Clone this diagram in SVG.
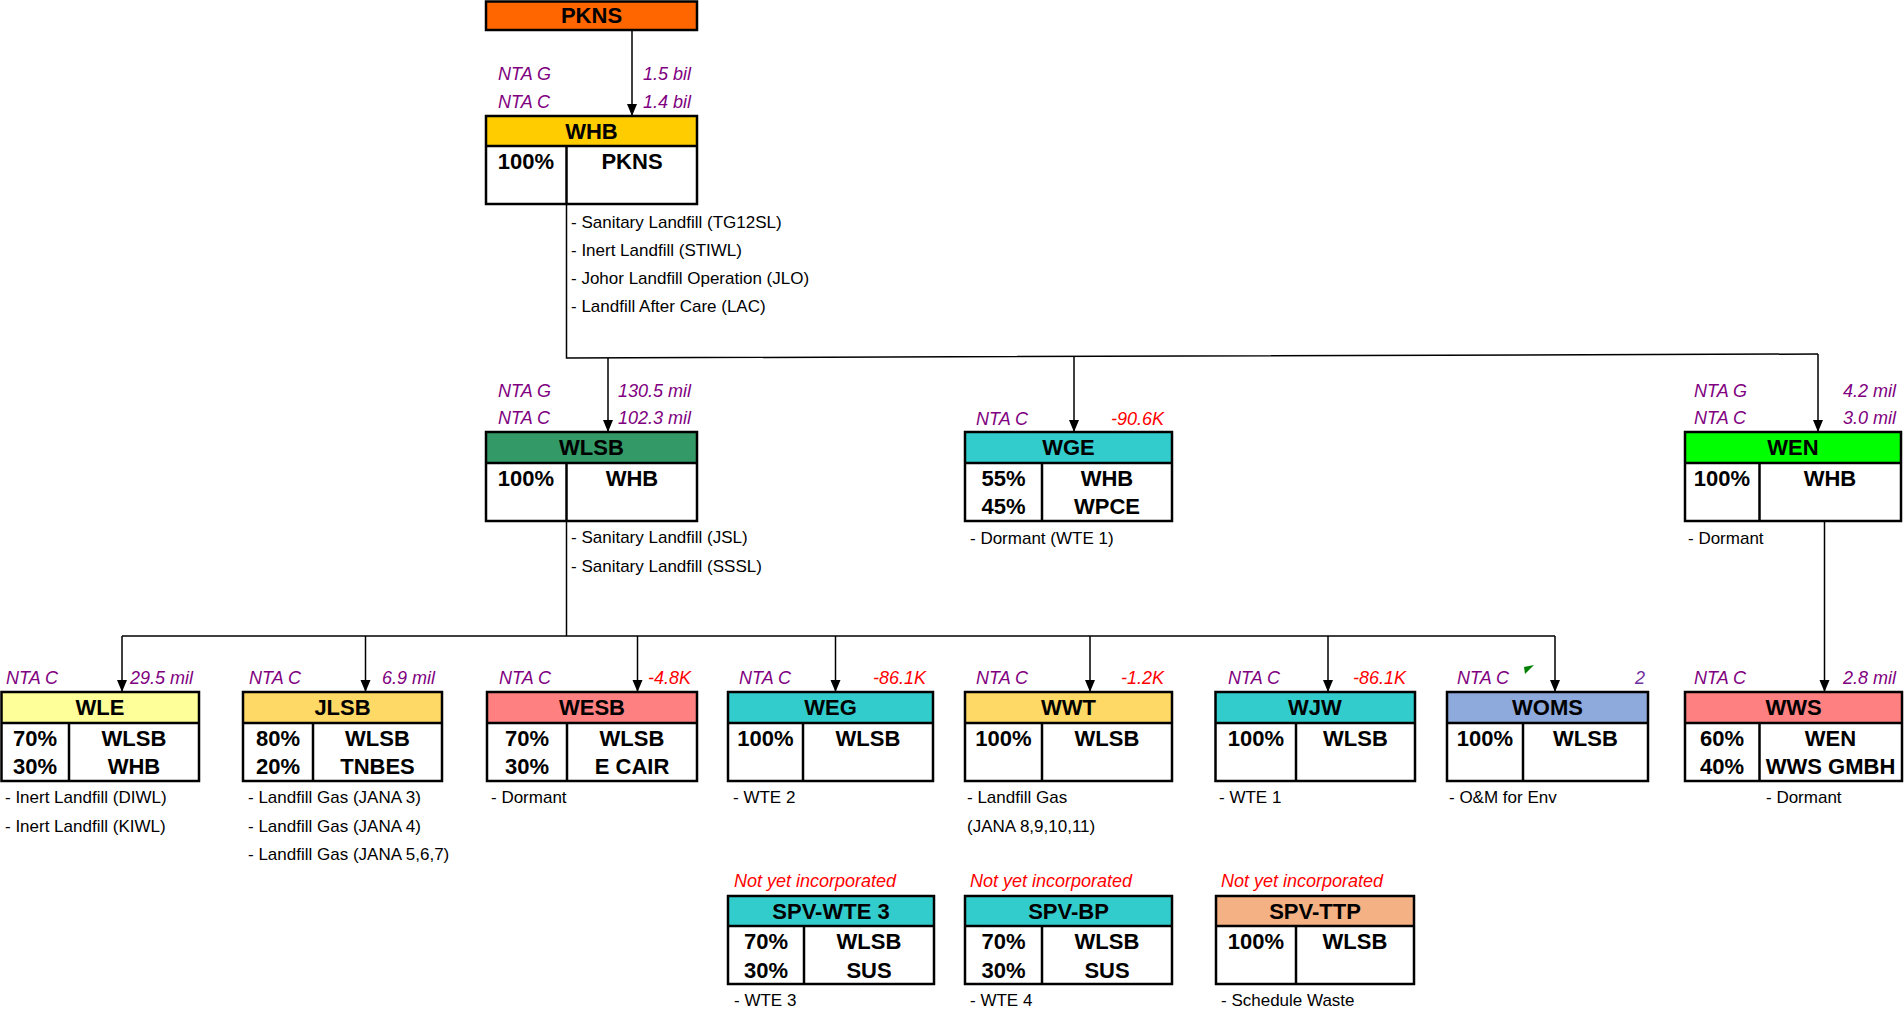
<svg xmlns="http://www.w3.org/2000/svg" width="1904" height="1015" viewBox="0 0 1904 1015">
<defs>
<style>
text{font-family:"Liberation Sans",Arial,sans-serif}
.box{fill:none;stroke:#000;stroke-width:2.5}
.sep{stroke:#000;stroke-width:2.5}
.h{font-weight:bold;font-size:22px;text-anchor:middle;fill:#000}
.c{font-weight:bold;font-size:22px;text-anchor:middle;fill:#000}
.d{font-size:17px;fill:#000}
.n{font-style:italic;font-size:18px;fill:#800080}
.v{font-style:italic;font-size:18px;fill:#800080;text-anchor:end}
.r{font-style:italic;font-size:18px;fill:#FF0000;text-anchor:end}
.ny{font-style:italic;font-size:18px;fill:#FF0000}
.con{fill:none;stroke:#000;stroke-width:1.5}
</style>
<marker id="ah" viewBox="0 0 12 10" markerWidth="12" markerHeight="11" refX="12" refY="5" orient="auto" markerUnits="userSpaceOnUse">
<path d="M0,0 L12,5 L0,10 z" fill="#000"/>
</marker>
</defs>
<rect width="1904" height="1015" fill="#fff"/>

<g id="connectors">
<path class="con" d="M632,30 V116" marker-end="url(#ah)"/>
<path class="con" d="M566.5,204 V358 L1818,354"/>
<path class="con" d="M608,358 V432" marker-end="url(#ah)"/>
<path class="con" d="M1074,357 V432" marker-end="url(#ah)"/>
<path class="con" d="M1818,354 V432" marker-end="url(#ah)"/>
<path class="con" d="M566.5,521 V636"/>
<path class="con" d="M122,636 H1555"/>
<path class="con" d="M122,636 V692" marker-end="url(#ah)"/>
<path class="con" d="M365.5,636 V692" marker-end="url(#ah)"/>
<path class="con" d="M637.5,636 V692" marker-end="url(#ah)"/>
<path class="con" d="M835.5,636 V692" marker-end="url(#ah)"/>
<path class="con" d="M1090,636 V692" marker-end="url(#ah)"/>
<path class="con" d="M1328,636 V692" marker-end="url(#ah)"/>
<path class="con" d="M1555,636 V692" marker-end="url(#ah)"/>
<path class="con" d="M1824.5,521 V692" marker-end="url(#ah)"/>
</g>

<g id="labels">
<text class="n" x="498" y="80">NTA G</text>
<text class="n" x="498" y="108">NTA C</text>
<text class="v" x="691" y="80">1.5 bil</text>
<text class="v" x="691" y="108">1.4 bil</text>
<text class="n" x="498" y="397">NTA G</text>
<text class="n" x="498" y="424">NTA C</text>
<text class="v" x="691" y="397">130.5 mil</text>
<text class="v" x="691" y="424">102.3 mil</text>
<text class="n" x="976" y="425">NTA C</text>
<text class="r" x="1164" y="425">-90.6K</text>
<text class="n" x="1694" y="397">NTA G</text>
<text class="n" x="1694" y="424">NTA C</text>
<text class="v" x="1896" y="397">4.2 mil</text>
<text class="v" x="1896" y="424">3.0 mil</text>
<text class="n" x="6" y="684">NTA C</text>
<text class="v" x="193" y="684">29.5 mil</text>
<text class="n" x="249" y="684">NTA C</text>
<text class="v" x="435" y="684">6.9 mil</text>
<text class="n" x="499" y="684">NTA C</text>
<text class="r" x="691" y="684">-4.8K</text>
<text class="n" x="739" y="684">NTA C</text>
<text class="r" x="926" y="684">-86.1K</text>
<text class="n" x="976" y="684">NTA C</text>
<text class="r" x="1164" y="684">-1.2K</text>
<text class="n" x="1228" y="684">NTA C</text>
<text class="r" x="1406" y="684">-86.1K</text>
<text class="n" x="1457" y="684">NTA C</text>
<text class="v" x="1645" y="684" style="fill:#7030A0">2</text>
<polygon points="1524,667 1534,665 1525,674" fill="#008000"/>
<text class="n" x="1694" y="684">NTA C</text>
<text class="v" x="1896" y="684">2.8 mil</text>
<text class="ny" x="734" y="887">Not yet incorporated</text>
<text class="ny" x="970" y="887">Not yet incorporated</text>
<text class="ny" x="1221" y="887">Not yet incorporated</text>
</g>

<g id="n-pkns">
<rect x="486" y="1.5" width="211" height="28.5" fill="#FF6600"/>
<rect x="486" y="1.5" width="211" height="28.5" class="box"/>
<text class="h" x="591.5" y="23">PKNS</text>
</g>

<g id="n-whb">
<rect x="486" y="116" width="211" height="30" fill="#FFCC00"/>
<rect x="486" y="116" width="211" height="88" class="box"/>
<line class="sep" x1="486" y1="146" x2="697" y2="146"/>
<line class="sep" x1="566.5" y1="146" x2="566.5" y2="204"/>
<text class="h" x="591.5" y="139">WHB</text>
<text class="c" x="526" y="169">100%</text>
<text class="c" x="632" y="169">PKNS</text>
<text class="d" x="571" y="228">- Sanitary Landfill (TG12SL)</text>
<text class="d" x="571" y="256">- Inert Landfill (STIWL)</text>
<text class="d" x="571" y="284">- Johor Landfill Operation (JLO)</text>
<text class="d" x="571" y="312">- Landfill After Care (LAC)</text>
</g>

<g id="n-wlsb">
<rect x="486" y="432" width="211" height="31" fill="#339966"/>
<rect x="486" y="432" width="211" height="89" class="box"/>
<line class="sep" x1="486" y1="463" x2="697" y2="463"/>
<line class="sep" x1="566.5" y1="463" x2="566.5" y2="521"/>
<text class="h" x="591.5" y="455">WLSB</text>
<text class="c" x="526" y="486">100%</text>
<text class="c" x="632" y="486">WHB</text>
<text class="d" x="571" y="543">- Sanitary Landfill (JSL)</text>
<text class="d" x="571" y="572">- Sanitary Landfill (SSSL)</text>
</g>

<g id="n-wge">
<rect x="965" y="432" width="207" height="31" fill="#33CCCC"/>
<rect x="965" y="432" width="207" height="89" class="box"/>
<line class="sep" x1="965" y1="463" x2="1172" y2="463"/>
<line class="sep" x1="1042" y1="463" x2="1042" y2="521"/>
<text class="h" x="1068.5" y="455">WGE</text>
<text class="c" x="1003.5" y="486">55%</text>
<text class="c" x="1003.5" y="514">45%</text>
<text class="c" x="1107" y="486">WHB</text>
<text class="c" x="1107" y="514">WPCE</text>
<text class="d" x="970" y="544">- Dormant (WTE 1)</text>
</g>

<g id="n-wen">
<rect x="1685" y="432" width="216" height="31" fill="#00FF00"/>
<rect x="1685" y="432" width="216" height="89" class="box"/>
<line class="sep" x1="1685" y1="463" x2="1901" y2="463"/>
<line class="sep" x1="1759.5" y1="463" x2="1759.5" y2="521"/>
<text class="h" x="1793" y="455">WEN</text>
<text class="c" x="1722" y="486">100%</text>
<text class="c" x="1830" y="486">WHB</text>
<text class="d" x="1688" y="544">- Dormant</text>
</g>

<g id="n-wle">
<rect x="1.5" y="692" width="197.5" height="31" fill="#FFFF99"/>
<rect x="1.5" y="692" width="197.5" height="89" class="box"/>
<line class="sep" x1="1.5" y1="723" x2="199" y2="723"/>
<line class="sep" x1="69" y1="723" x2="69" y2="781"/>
<text class="h" x="100" y="715">WLE</text>
<text class="c" x="35" y="746">70%</text>
<text class="c" x="35" y="774">30%</text>
<text class="c" x="134" y="746">WLSB</text>
<text class="c" x="134" y="774">WHB</text>
<text class="d" x="5" y="803">- Inert Landfill (DIWL)</text>
<text class="d" x="5" y="832">- Inert Landfill (KIWL)</text>
</g>

<g id="n-jlsb">
<rect x="243" y="692" width="199" height="31" fill="#FFD966"/>
<rect x="243" y="692" width="199" height="89" class="box"/>
<line class="sep" x1="243" y1="723" x2="442" y2="723"/>
<line class="sep" x1="313" y1="723" x2="313" y2="781"/>
<text class="h" x="342.5" y="715">JLSB</text>
<text class="c" x="278" y="746">80%</text>
<text class="c" x="278" y="774">20%</text>
<text class="c" x="377.5" y="746">WLSB</text>
<text class="c" x="377.5" y="774">TNBES</text>
<text class="d" x="248" y="803">- Landfill Gas (JANA 3)</text>
<text class="d" x="248" y="832">- Landfill Gas (JANA 4)</text>
<text class="d" x="248" y="860">- Landfill Gas (JANA 5,6,7)</text>
</g>

<g id="n-wesb">
<rect x="487" y="692" width="210" height="31" fill="#FF8080"/>
<rect x="487" y="692" width="210" height="89" class="box"/>
<line class="sep" x1="487" y1="723" x2="697" y2="723"/>
<line class="sep" x1="567" y1="723" x2="567" y2="781"/>
<text class="h" x="592" y="715">WESB</text>
<text class="c" x="527" y="746">70%</text>
<text class="c" x="527" y="774">30%</text>
<text class="c" x="632" y="746">WLSB</text>
<text class="c" x="632" y="774">E CAIR</text>
<text class="d" x="491" y="803">- Dormant</text>
</g>

<g id="n-weg">
<rect x="728" y="692" width="205" height="31" fill="#33CCCC"/>
<rect x="728" y="692" width="205" height="89" class="box"/>
<line class="sep" x1="728" y1="723" x2="933" y2="723"/>
<line class="sep" x1="803" y1="723" x2="803" y2="781"/>
<text class="h" x="830.5" y="715">WEG</text>
<text class="c" x="765.5" y="746">100%</text>
<text class="c" x="868" y="746">WLSB</text>
<text class="d" x="733" y="803">- WTE 2</text>
</g>

<g id="n-wwt">
<rect x="965" y="692" width="207" height="31" fill="#FFD966"/>
<rect x="965" y="692" width="207" height="89" class="box"/>
<line class="sep" x1="965" y1="723" x2="1172" y2="723"/>
<line class="sep" x1="1042" y1="723" x2="1042" y2="781"/>
<text class="h" x="1068.5" y="715">WWT</text>
<text class="c" x="1003.5" y="746">100%</text>
<text class="c" x="1107" y="746">WLSB</text>
<text class="d" x="967" y="803">- Landfill Gas</text>
<text class="d" x="967" y="832">(JANA 8,9,10,11)</text>
</g>

<g id="n-wjw">
<rect x="1215.5" y="692" width="199.5" height="31" fill="#33CCCC"/>
<rect x="1215.5" y="692" width="199.5" height="89" class="box"/>
<line class="sep" x1="1215.5" y1="723" x2="1415" y2="723"/>
<line class="sep" x1="1296" y1="723" x2="1296" y2="781"/>
<text class="h" x="1315" y="715">WJW</text>
<text class="c" x="1256" y="746">100%</text>
<text class="c" x="1355.5" y="746">WLSB</text>
<text class="d" x="1219" y="803">- WTE 1</text>
</g>

<g id="n-woms">
<rect x="1447" y="692" width="201" height="31" fill="#8EA9DB"/>
<rect x="1447" y="692" width="201" height="89" class="box"/>
<line class="sep" x1="1447" y1="723" x2="1648" y2="723"/>
<line class="sep" x1="1523" y1="723" x2="1523" y2="781"/>
<text class="h" x="1547.5" y="715">WOMS</text>
<text class="c" x="1485" y="746">100%</text>
<text class="c" x="1585.5" y="746">WLSB</text>
<text class="d" x="1449" y="803">- O&amp;M for Env</text>
</g>

<g id="n-wws">
<rect x="1685" y="692" width="217" height="31" fill="#FF8080"/>
<rect x="1685" y="692" width="217" height="89" class="box"/>
<line class="sep" x1="1685" y1="723" x2="1902" y2="723"/>
<line class="sep" x1="1759.5" y1="723" x2="1759.5" y2="781"/>
<text class="h" x="1793.5" y="715">WWS</text>
<text class="c" x="1722" y="746">60%</text>
<text class="c" x="1722" y="774">40%</text>
<text class="c" x="1830.5" y="746">WEN</text>
<text class="c" x="1830.5" y="774">WWS GMBH</text>
<text class="d" x="1766" y="803">- Dormant</text>
</g>

<g id="n-spv-wte3">
<rect x="728" y="896" width="206" height="30" fill="#33CCCC"/>
<rect x="728" y="896" width="206" height="88" class="box"/>
<line class="sep" x1="728" y1="926" x2="934" y2="926"/>
<line class="sep" x1="804" y1="926" x2="804" y2="984"/>
<text class="h" x="831" y="919">SPV-WTE 3</text>
<text class="c" x="766" y="949">70%</text>
<text class="c" x="766" y="978">30%</text>
<text class="c" x="869" y="949">WLSB</text>
<text class="c" x="869" y="978">SUS</text>
<text class="d" x="734" y="1006">- WTE 3</text>
</g>

<g id="n-spv-bp">
<rect x="965" y="896" width="207" height="30" fill="#33CCCC"/>
<rect x="965" y="896" width="207" height="88" class="box"/>
<line class="sep" x1="965" y1="926" x2="1172" y2="926"/>
<line class="sep" x1="1042" y1="926" x2="1042" y2="984"/>
<text class="h" x="1068.5" y="919">SPV-BP</text>
<text class="c" x="1003.5" y="949">70%</text>
<text class="c" x="1003.5" y="978">30%</text>
<text class="c" x="1107" y="949">WLSB</text>
<text class="c" x="1107" y="978">SUS</text>
<text class="d" x="970" y="1006">- WTE 4</text>
</g>

<g id="n-spv-ttp">
<rect x="1216" y="896" width="198" height="30" fill="#F4B183"/>
<rect x="1216" y="896" width="198" height="88" class="box"/>
<line class="sep" x1="1216" y1="926" x2="1414" y2="926"/>
<line class="sep" x1="1296" y1="926" x2="1296" y2="984"/>
<text class="h" x="1315" y="919">SPV-TTP</text>
<text class="c" x="1256" y="949">100%</text>
<text class="c" x="1355" y="949">WLSB</text>
<text class="d" x="1221" y="1006">- Schedule Waste</text>
</g>
</svg>
